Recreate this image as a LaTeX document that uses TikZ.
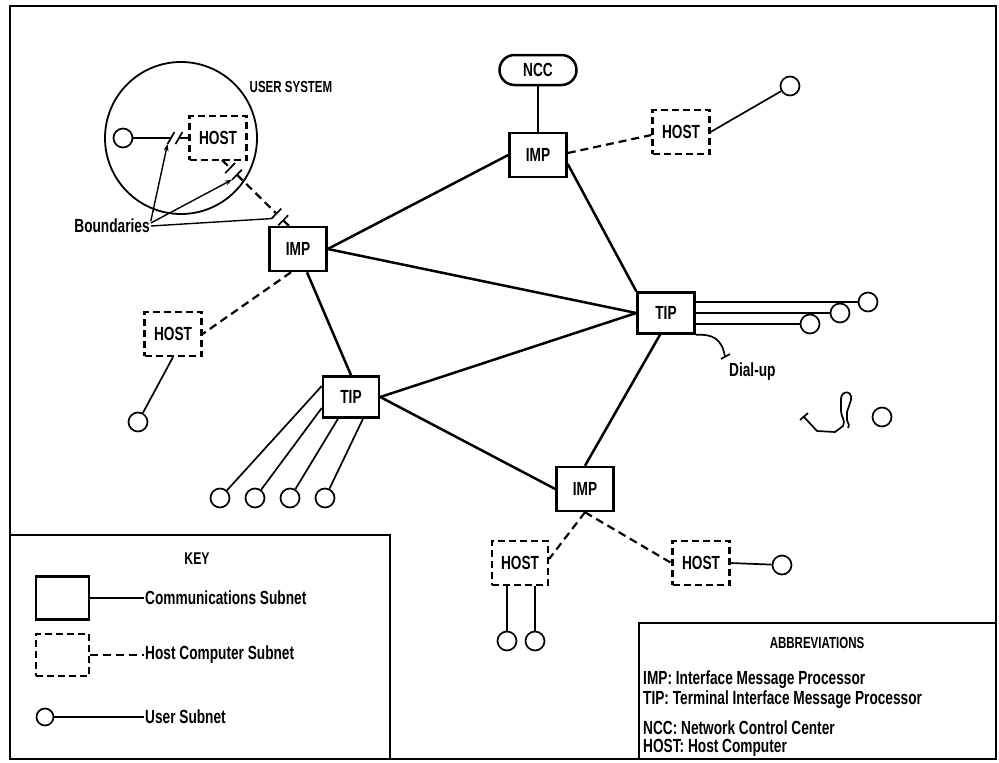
\documentclass[tikz,border=0pt]{standalone}
\usepackage{fontspec}
\setmainfont[FakeStretch=0.72,UprightFont={* Bold}]{Liberation Sans}
\usetikzlibrary{calc,arrows.meta}
\begin{document}
\begin{tikzpicture}[x=1pt,y=-1pt,
  lbl/.style={font=\fontsize{19}{21}\selectfont},
  comm/.style={draw,line width=2.5pt,minimum width=57pt,minimum height=44pt,inner sep=0pt,lbl},
  hostbox/.style={draw,line width=2.2pt,dash pattern=on 7pt off 4pt,minimum width=57pt,minimum height=44pt,inner sep=0pt,lbl},
  usr/.style={circle,draw,line width=1.7pt,minimum size=19pt,inner sep=0pt},
  link/.style={line width=2.5pt},
  ulink/.style={line width=1.7pt},
  hlink/.style={line width=2.2pt,dash pattern=on 8pt off 5pt},
  bmark/.style={line width=1.7pt},
  barrow/.style={line width=1.4pt,-{Stealth[length=7pt,width=5pt]}},
  keytxt/.style={font=\fontsize{19}{21}\selectfont,inner sep=1pt,anchor=west},
  abtxt/.style={font=\fontsize{19}{21}\selectfont,inner sep=0pt,anchor=west},
]
\useasboundingbox (0,0) rectangle (999,763);
\fill[white] (0,0) rectangle (999,763);
% frames
\draw[line width=2pt] (10,6) rectangle (996,759);
\draw[line width=2pt] (10,535) rectangle (390,759);
\draw[line width=2pt] (639,623) rectangle (996,759);

% nodes
\node[comm,rounded corners=15pt,minimum width=77pt,minimum height=30pt] (ncc) at (538,70) {NCC};
\node[comm] (impT) at (538,155) {IMP};
\node[hostbox] (hostT) at (681,132) {HOST};
\node[usr] (uT) at (790,86) {};
\node[comm] (impL) at (298,249) {IMP};
\node[circle,draw,line width=1.8pt,minimum size=152pt,inner sep=0pt] (usys) at (181,138) {};
\node[hostbox] (hostU) at (218,138) {HOST};
\node[usr] (uU) at (123,138) {};
\node[hostbox] (hostL) at (173,334) {HOST};
\node[usr] (uL) at (138,422) {};
\node[comm,minimum height=41pt,minimum width=56pt] (tipL) at (351,397) {TIP};
\node[usr] (u1) at (220,498) {};
\node[usr] (u2) at (255,498) {};
\node[usr] (u3) at (290,498) {};
\node[usr] (u4) at (325,498) {};
\node[comm,minimum height=41pt] (tipR) at (666,313) {TIP};
\node[usr] (r1) at (868,302) {};
\node[usr] (r2) at (840,313) {};
\node[usr] (r3) at (810,324) {};
\node[comm] (impB) at (585,489) {IMP};
\node[hostbox,minimum width=56pt] (hostB1) at (520,563) {HOST};
\node[hostbox] (hostB2) at (701,563) {HOST};
\node[usr] (b1) at (507,641) {};
\node[usr] (b2) at (535,641) {};
\node[usr] (uB2) at (782,565) {};
\node[usr] (uX) at (882,417) {};
\node[font=\fontsize{16}{18}\selectfont] (us) at (291,87) {USER SYSTEM};
\node[lbl,inner sep=1pt] (bd) at (112,226) {Boundaries};
\node[keytxt] (dial) at (728,372) {Dial-up};

% communications links
\draw[link] (impL.east) -- (impT.west);
\draw[link] (impL.east) -- (tipR.west);
\draw[link] ([yshift=-9pt]impT.east) -- (tipR.north west);
\draw[link] (tipL.east) -- (tipR.west);
\draw[link] (tipL.east) -- (impB.west);
\draw[link] ([xshift=-6pt]tipR.south) -- (impB.north);
\draw[link] ([xshift=9pt]impL.south) -- (tipL.north);
\draw[link] (impT.north) -- (ncc.south);

% host links
\draw[hlink] ([yshift=2pt]impT.east) -- ([yshift=-3pt]hostT.west);
\draw[hlink] ([xshift=-7pt]impL.south) -- (hostL.east);
\draw[hlink] (impB.south) -- ([yshift=4pt]hostB1.east);
\draw[hlink] (impB.south) -- (hostB2.west);

% user links
\draw[ulink] (hostT.east) -- (uT);
\draw[ulink] (hostL.south) -- (uL);
\draw[ulink] ([yshift=11pt]tipL.west) -- (u1);
\draw[ulink] ([yshift=-11pt]tipL.west) -- (u2);
\draw[ulink] ([xshift=-13pt]tipL.south) -- (u3);
\draw[ulink] ([xshift=12pt]tipL.south) -- (u4);
\draw[ulink] ([yshift=11pt]tipR.east) -- (r1.west);
\draw[ulink] (tipR.east) -- (r2.west);
\draw[ulink] ([yshift=-11pt]tipR.east) -- (r3.west);
\draw[ulink] (hostB2.east) -- (uB2);
\draw[ulink] ([xshift=-13pt]hostB1.south) -- (b1);
\draw[ulink] ([xshift=15pt]hostB1.south) -- (b2);

% user system with boundaries
\coordinate (g1) at (171,138);
\coordinate (g2) at (179,138);
\draw[ulink] (uU) -- (g1);
\draw[ulink] (g2) -- (hostU.west);
\coordinate (m1a) at ($(g1)!7pt!60:(hostU.west)$);
\coordinate (m1b) at ($(g1)!7pt!-120:(hostU.west)$);
\coordinate (m2a) at ($(g2)!7pt!60:(hostU.west)$);
\coordinate (m2b) at ($(g2)!7pt!-120:(hostU.west)$);
\draw[bmark] (m1a) -- (m1b);
\draw[bmark] (m2a) -- (m2b);

\coordinate (s) at (222,160);
\coordinate (e) at (290,227);
\coordinate (p1) at ($(s)!0.12!(e)$);
\coordinate (p2) at ($(s)!0.22!(e)$);
\coordinate (p3) at ($(s)!0.80!(e)$);
\coordinate (p4) at ($(s)!0.90!(e)$);
\draw[hlink] (s) -- (p1);
\draw[hlink] (p2) -- (p3);
\draw[hlink] (p4) -- (e);
\foreach \p in {p1,p2,p3,p4}{
  \coordinate (\p a) at ($(\p)!7pt!90:(e)$);
  \coordinate (\p b) at ($(\p)!7pt!-90:(e)$);
  \draw[bmark] (\p a) -- (\p b);
}
\draw[barrow] ([yshift=5pt]bd.east) -- (m1b);
\draw[barrow] ([yshift=3pt]bd.east) -- (p2b);
\draw[line width=1.4pt] ([yshift=0pt]bd.east) -- (p3b);

% dial-up
\coordinate (dEnd) at (725,357);
\draw[ulink] (tipR.south east) .. controls (712,334) and (722,338) .. (dEnd);
\draw[ulink] ($(dEnd)+(-4,2)$) -- ($(dEnd)+(5,-3)$);

% loose handset cord
\draw[ulink] (800,420) -- (808,413);
\draw[ulink] (804,417) -- (817,431) -- (835,432) -- (843,426)
  .. controls (846,420) and (841,418) .. (841,410) -- (841,399)
  .. controls (841,390) and (853,390) .. (851,400) -- (847,412) -- (847,420)
  .. controls (848,424) and (850,424) .. (848,428);

% key
\node[font=\fontsize{17}{19}\selectfont] (key) at (197,559) {KEY};
\node[comm,minimum width=53pt,minimum height=43pt] (kc) at (62.5,598) {};
\node[keytxt] (kct) at (144,598) {Communications Subnet};
\draw[line width=2pt] (kc.east) -- (kct.west);
\node[hostbox,minimum width=53pt,minimum height=42pt] (kh) at (62.5,655) {};
\node[keytxt] (kht) at (144,655) {Host Computer Subnet};
\draw[hlink] (kh.east) -- (kht.west);
\node[usr,minimum size=17pt] (ku) at (45,717) {};
\node[keytxt] (kut) at (144,717) {User Subnet};
\draw[ulink] (ku) -- (kut.west);

% abbreviations
\node[font=\fontsize{16}{18}\selectfont] (abt) at (817,643) {ABBREVIATIONS};
\node[abtxt] (a1) at (643,680) {IMP: Interface Message Processor};
\node[abtxt] (a2) at (643,700) {TIP: Terminal Interface Message Processor};
\node[abtxt] (a3) at (643,728) {NCC: Network Control Center};
\node[abtxt] (a4) at (643,748) {HOST: Host Computer};
\end{tikzpicture}
\end{document}
